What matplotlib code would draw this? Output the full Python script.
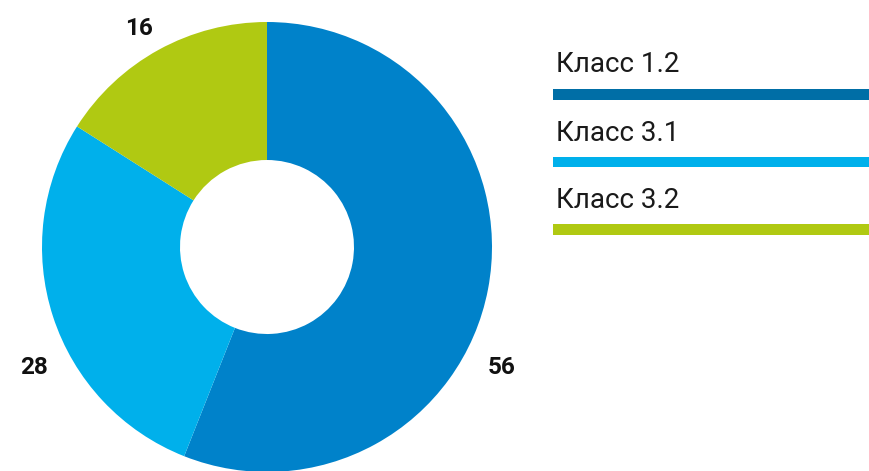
import matplotlib
matplotlib.use('Agg')

import matplotlib.pyplot as plt
import matplotlib.patches as patches

# shares by class, clockwise from 12 o'clock
classes = ['Класс 1.2', 'Класс 3.1', 'Класс 3.2']
shares = [56, 28, 16]
slice_colors = ['#0082ca', '#00b0eb', '#b0c912']
legend_colors = ['#006ea6', '#00b0eb', '#b0c912']

W, H = 869, 471
fig = plt.figure(figsize=(W / 100, H / 100), dpi=100)
ax = fig.add_axes([0, 0, 1, 1])

cx, cy = 267, H - 247
r_out, r_in = 225, 87

ax.pie(shares, colors=slice_colors, startangle=90, counterclock=False,
       center=(cx, cy), radius=r_out, frame=True,
       wedgeprops=dict(width=r_out - r_in, linewidth=0))

# value labels placed outside the ring (baseline positions)
label_pos = [(502, H - 374), (34, H - 374), (139, H - 35)]
for val, (x, y) in zip(shares, label_pos):
    ax.text(x, y, str(val), ha='center', va='baseline', fontsize=17.5,
            fontweight='bold', family='Roboto', color='#111111')

# legend: caption above a coloured stripe
text_y = [H - 72, H - 141, H - 208]
bar_y = [H - 94.5, H - 162, H - 229.5]
for name, col, ty, by in zip(classes, legend_colors, text_y, bar_y):
    ax.text(556, ty, name, ha='left', va='baseline', fontsize=20,
            family='Roboto', fontweight='normal', color='#1a1a1a')
    ax.add_patch(patches.Rectangle((553, by - 5), W - 553, 10.5,
                                   facecolor=col, edgecolor='none'))

ax.set_xlim(0, W)
ax.set_ylim(0, H)
ax.set_aspect('equal')
ax.axis('off')

plt.savefig('out.png', dpi=100, facecolor='white')
plt.close()
